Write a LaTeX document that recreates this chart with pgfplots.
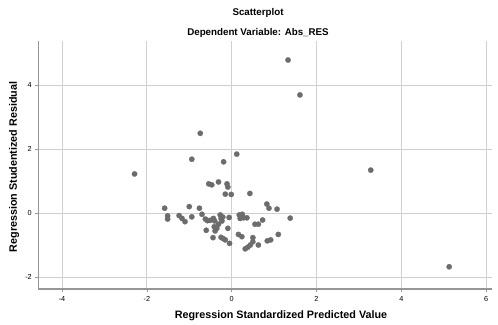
\documentclass[border=0pt]{standalone}
\usepackage{pgfplots}
\pgfplotsset{compat=1.18}
\usepackage{fontspec}
\setmainfont{Liberation Sans}
\definecolor{dotc}{RGB}{108,108,108}
\definecolor{gridc}{RGB}{208,208,208}
\definecolor{axc}{RGB}{150,150,150}
\begin{document}
\begin{tikzpicture}[x=1bp,y=1bp]
\useasboundingbox (0,0) rectangle (498,324);
\begin{axis}[
  at={(38.3bp,35bp)}, anchor=south west,
  width=453.7bp, height=248bp, scale only axis,
  xmin=-4.56, xmax=6.14, ymin=-2.375, ymax=5.375,
  axis x line*=bottom, axis y line*=left,
  axis line style={axc, line width=1.3bp},
  xtick={-4,-2,0,2,4,6}, ytick={-2,0,2,4},
  grid=major, major grid style={gridc, line width=0.8bp},
  tick style={axc, line width=0.6bp}, tick align=outside, major tick length=3bp,
  tick label style={font=\fontsize{7.3}{8}\selectfont, text=black},
  /pgf/number format/assume math mode=true,
  xticklabel style={yshift=-1bp},
  clip=false,
]
\addplot[only marks, color=dotc, mark=*, mark size=2.7bp, mark options={fill=dotc, draw=dotc, line width=0.2bp}] coordinates {
(1.33,4.78) (1.61,3.69) (3.28,1.34) (5.13,-1.68) (-2.29,1.22)
(-0.74,2.49) (-0.94,1.68) (-0.19,1.60) (0.12,1.84)
(-0.54,0.91) (-0.47,0.88) (-0.31,0.97) (-0.11,0.91) (-0.09,0.81)
(-0.15,0.59) (-0.01,0.58) (0.43,0.61)
(0.83,0.28) (0.88,0.15) (1.07,0.12) (1.38,-0.16) (0.73,-0.22)
(0.55,-0.35) (0.63,-0.35) (1.10,-0.67) (0.84,-0.87) (0.92,-0.84)
(0.63,-1.0) (0.50,-0.77) (0.50,-0.90) (0.44,-1.0) (0.38,-1.07)
(0.32,-1.12) (0.16,-0.67) (0.24,-0.74)
(0.18,-0.06) (0.22,-0.09) (0.25,-0.04) (0.20,-0.17) (0.28,-0.15) (0.36,-0.15)
(-0.06,-0.14) (-0.05,-0.95) (-0.09,-0.48)
(-1.58,0.15) (-1.51,-0.09) (-1.51,-0.19) (-1.24,-0.08) (-1.17,-0.17)
(-1.10,-0.27) (-1.0,0.2) (-0.94,-0.12) (-0.76,0.15) (-0.70,-0.04)
(-0.62,-0.19) (-0.57,-0.24) (-0.51,-0.23) (-0.43,-0.17) (-0.40,-0.25)
(-0.27,-0.06) (-0.25,-0.17) (-0.21,-0.125) (-0.23,-0.25)
(-0.31,-0.35) (-0.35,-0.48) (-0.60,-0.54) (-0.41,-0.43) (-0.39,-0.56)
(-0.44,-0.77) (-0.25,-0.76) (-0.20,-0.80) (-0.15,-0.84)
};
\end{axis}
\node[font=\fontsize{9.8}{11}\selectfont\bfseries] at (258,311) {Scatterplot};
\node[font=\fontsize{9.8}{11}\selectfont\bfseries] at (258,291) {Dependent Variable: Abs\_RES};
\node[font=\fontsize{10.8}{12}\selectfont\bfseries] at (281,8) {Regression Standardized Predicted Value};
\node[font=\fontsize{10.8}{12}\selectfont\bfseries, rotate=90] at (14,157) {Regression Studentized Residual};
\end{tikzpicture}
\end{document}
